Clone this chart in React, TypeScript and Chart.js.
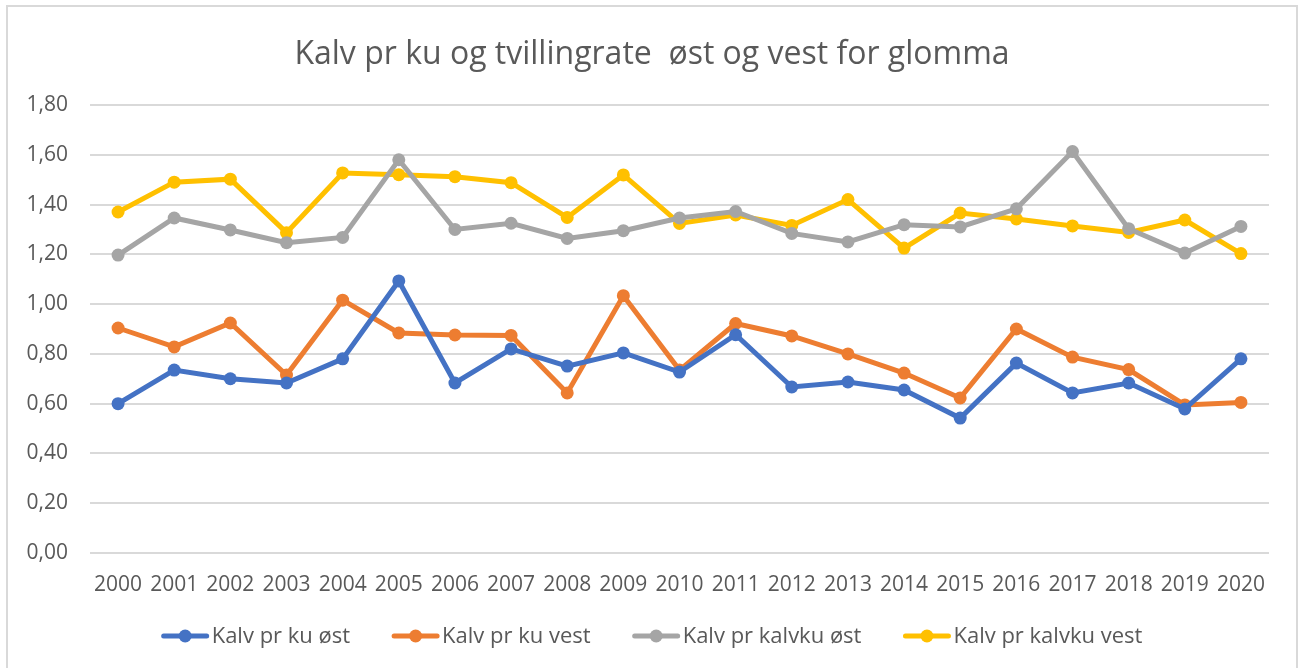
import React, { useEffect, useRef } from "react";
import { Chart, registerables } from "chart.js";

Chart.register(...registerables);

const years = ["2000","2001","2002","2003","2004","2005","2006","2007","2008","2009","2010","2011","2012","2013","2014","2015","2016","2017","2018","2019","2020"];
const kalvKuOst = [0.60,0.735,0.70,0.683,0.78,1.093,0.683,0.82,0.751,0.804,0.727,0.877,0.667,0.687,0.655,0.542,0.763,0.643,0.683,0.579,0.78];
const kalvKuVest = [0.904,0.828,0.924,0.715,1.016,0.884,0.876,0.874,0.643,1.034,0.735,0.922,0.872,0.80,0.723,0.623,0.90,0.787,0.737,0.595,0.605];
const kalvkuOst = [1.197,1.346,1.298,1.247,1.268,1.58,1.30,1.325,1.264,1.295,1.346,1.372,1.284,1.25,1.319,1.31,1.383,1.613,1.303,1.205,1.312];
const kalvkuVest = [1.37,1.49,1.502,1.287,1.527,1.52,1.512,1.488,1.348,1.519,1.324,1.358,1.316,1.42,1.225,1.366,1.342,1.314,1.288,1.338,1.203];
const seriesNames = ["Kalv pr ku øst","Kalv pr ku vest","Kalv pr kalvku øst","Kalv pr kalvku vest"];
const seriesColors = ["#4472C4","#ED7D31","#A5A5A5","#FFC000"];
const titleText = "Kalv pr ku og tvillingrate  øst og vest for glomma";

const FONT = "'Open Sans', sans-serif";

const customPlugin = {
  id: "customDeco",
  afterDraw(chart: any) {
    const ctx = chart.ctx;
    const w = chart.width;
    ctx.save();
    // title
    ctx.fillStyle = "#595959";
    ctx.font = `32px ${FONT}`;
    ctx.textAlign = "center";
    ctx.textBaseline = "alphabetic";
    ctx.fillText(titleText, w / 2, 57);
    // legend
    ctx.font = `22px ${FONT}`;
    const markerW = 47;
    const gapText = 3;
    const gapItem = 42;
    const widths = seriesNames.map((n) => ctx.measureText(n).width);
    const total = widths.reduce((a, b) => a + b, 0) + seriesNames.length * (markerW + gapText) + gapItem * (seriesNames.length - 1);
    let x = w / 2 - total / 2;
    const y = 629;
    ctx.textAlign = "left";
    ctx.textBaseline = "middle";
    seriesNames.forEach((n, i) => {
      ctx.strokeStyle = seriesColors[i];
      ctx.lineWidth = 5;
      ctx.lineCap = "round";
      ctx.beginPath();
      ctx.moveTo(x + 2, y);
      ctx.lineTo(x + markerW - 2, y);
      ctx.stroke();
      ctx.fillStyle = seriesColors[i];
      ctx.beginPath();
      ctx.arc(x + markerW / 2, y, 6.5, 0, Math.PI * 2);
      ctx.fill();
      ctx.fillStyle = "#595959";
      ctx.fillText(n, x + markerW + gapText, y + 1);
      x += markerW + gapText + widths[i] + gapItem;
    });
    ctx.restore();
  },
};

export default function App() {
  const ref = useRef<HTMLCanvasElement>(null);
  useEffect(() => {
    if (!ref.current) return;
    Chart.defaults.font.family = FONT;
    const data = [kalvKuOst, kalvKuVest, kalvkuOst, kalvkuVest];
    const chart = new Chart(ref.current, {
      type: "line",
      data: {
        labels: years,
        datasets: data.map((d, i) => ({
          label: seriesNames[i],
          data: d,
          borderColor: seriesColors[i],
          backgroundColor: seriesColors[i],
          borderWidth: 5,
          pointRadius: 6.5,
          pointBorderWidth: 0,
          pointBackgroundColor: seriesColors[i],
          tension: 0,
          fill: false,
        })),
      },
      options: {
        animation: false,
        responsive: false,
        maintainAspectRatio: false,
        layout: { padding: { left: 0, right: 27, top: 98, bottom: 75 } },
        plugins: {
          legend: { display: false },
          title: { display: false },
          tooltip: { enabled: false },
        },
        scales: {
          x: {
            offset: true,
            grid: { display: false, drawTicks: false },
            border: { display: false },
            ticks: { color: "#595959", font: { size: 21 }, padding: 19, maxRotation: 0, autoSkip: false },
            afterFit: (s: any) => { s.height = 40; },
          },
          y: {
            min: 0,
            max: 1.8,
            grid: { color: "#d9d9d9", lineWidth: 2, drawTicks: false },
            border: { display: false },
            ticks: {
              stepSize: 0.2,
              color: "#595959",
              font: { size: 21 },
              padding: 22,
              callback: (v: any) => Number(v).toFixed(2).replace(".", ","),
            },
            afterFit: (s: any) => { s.width = 82; },
          },
        },
      },
      plugins: [customPlugin],
    });
    return () => chart.destroy();
  }, []);
  return (
    <div
      style={{
        position: "absolute",
        left: 6,
        top: 5,
        width: 1288,
        height: 670,
        borderLeft: "2px solid #d9d9d9",
        borderRight: "2px solid #d9d9d9",
        borderTop: "2px solid #d9d9d9",
        background: "#fff",
        overflow: "hidden",
      }}
    >
      <canvas ref={ref} width={1288} height={661} style={{ display: "block" }} />
    </div>
  );
}
